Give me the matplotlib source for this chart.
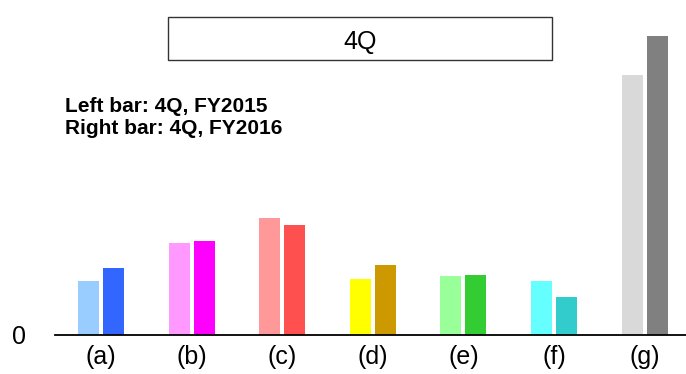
import matplotlib.pyplot as plt
from matplotlib.patches import Rectangle

plt.rcParams['font.family'] = ['Liberation Sans', 'DejaVu Sans']

categories = ["(a)", "(b)", "(c)", "(d)", "(e)", "(f)", "(g)"]
fy2015 = [54, 92, 117, 56, 59, 54, 260]
fy2016 = [67, 94, 110, 70, 60, 38, 299]
light_colors = ["#99CCFF", "#FF99FF", "#FF9999", "#FFFF00", "#99FF99", "#66FFFF", "#D9D9D9"]
dark_colors = ["#3366FF", "#FF00FF", "#FF5050", "#CC9900", "#33CC33", "#33CCCC", "#808080"]

W, H = 686, 374
fig = plt.figure(figsize=(W / 100, H / 100), dpi=100)
ax = fig.add_axes([55 / W, (H - 335) / H, 631 / W, 335 / H])

x = range(len(categories))
bw = 0.232
off = 0.138
ax.bar([i - off for i in x], fy2015, width=bw, color=light_colors)
ax.bar([i + off for i in x], fy2016, width=bw, color=dark_colors)

ax.set_xlim(-0.508, 6.457)
ax.set_ylim(0, 335)
ax.set_xticks(list(x))
ax.set_xticklabels(categories, fontsize=18)
ax.set_yticks([0])
ax.set_yticklabels(["0"], fontsize=18)
ax.tick_params(axis="x", length=0, pad=7)
ax.tick_params(axis="y", length=0, pad=21)
for s in ["top", "right", "left"]:
    ax.spines[s].set_visible(False)
ax.spines["bottom"].set_linewidth(1.3)
ax.patch.set_alpha(0)

# title box
fig.patches.append(Rectangle((168 / W, 1 - 60 / H), 384 / W, 43 / H,
                             transform=fig.transFigure, fill=False,
                             edgecolor="#333333", linewidth=1))
fig.text(360 / W, 1 - 49 / H, "4Q", ha="center", va="baseline", fontsize=18)

fig.text(65 / W, 1 - 112.5 / H, "Left bar: 4Q, FY2015", fontsize=15,
         fontweight="bold", va="baseline")
fig.text(65 / W, 1 - 134 / H, "Right bar: 4Q, FY2016", fontsize=15,
         fontweight="bold", va="baseline")

fig.savefig("out.png", dpi=100)
